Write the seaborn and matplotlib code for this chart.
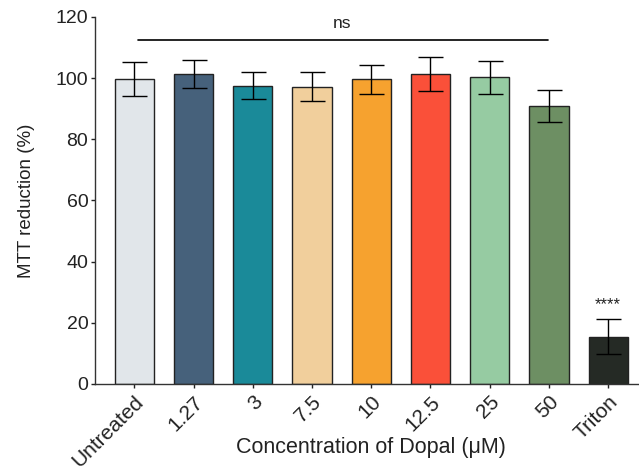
import seaborn as sns
import matplotlib.pyplot as plt
import pandas as pd

sns.set_style("ticks")
plt.rcParams['font.family'] = ['Liberation Sans', 'DejaVu Sans']
plt.rcParams['text.color'] = "#222222"
plt.rcParams['axes.labelcolor'] = "#222222"
plt.rcParams['xtick.color'] = "#222222"
plt.rcParams['ytick.color'] = "#222222"

groups = ["Untreated", "1.27", "3", "7.5", "10", "12.5", "25", "50", "Triton"]
mtt = [99.8, 101.2, 97.5, 97.2, 99.6, 101.4, 100.2, 90.8, 15.5]
sd = [5.6, 4.6, 4.4, 4.8, 4.8, 5.6, 5.4, 5.2, 5.8]
colors = ["#E1E6EA", "#46617B", "#1A8A99", "#F1CF9C", "#F6A22F",
          "#FA5039", "#96CBA2", "#6D8F63", "#252A25"]

df = pd.DataFrame({"group": groups, "mtt": mtt, "sd": sd})

fig = plt.figure(figsize=(6.39, 4.70), dpi=100)
ax = fig.add_axes([0.149, 0.183, 0.851, 0.781])

sns.barplot(data=df, x="group", y="mtt", hue="group", palette=colors,
            saturation=1, width=0.66, edgecolor="#222222", linewidth=1,
            legend=False, ax=ax)
ax.errorbar(range(len(groups)), df["mtt"], yerr=df["sd"], fmt="none",
            ecolor="black", elinewidth=1, capsize=9, capthick=1)

# significance
ax.plot([0.06, 6.98], [112.5, 112.5], color="black", lw=1.2)
ax.text(3.5, 115.3, "ns", ha="center", va="bottom", fontsize=12.5)
ax.text(8, 23.5, "****", ha="center", va="bottom", fontsize=12)

ax.set_ylim(0, 120)
ax.set_xlim(-0.66, 8.52)
ax.set_yticks([0, 20, 40, 60, 80, 100, 120])
ax.set_ylabel("MTT reduction (%)", fontsize=13.5, labelpad=15)
ax.set_xlabel("Concentration of Dopal (\u03bcM)", fontsize=15.5)
ax.xaxis.set_label_coords(0.507, -0.145)
ax.tick_params(axis="y", labelsize=14, length=3, width=1, pad=2)
ax.tick_params(axis="x", labelsize=15, length=3, width=1, pad=3)
plt.setp(ax.get_xticklabels(), rotation=45, ha="right", rotation_mode="anchor")
for s in ["left", "bottom"]:
    ax.spines[s].set_linewidth(1)
    ax.spines[s].set_color("#333333")
sns.despine(ax=ax)

fig.savefig("out.png", dpi=100)
